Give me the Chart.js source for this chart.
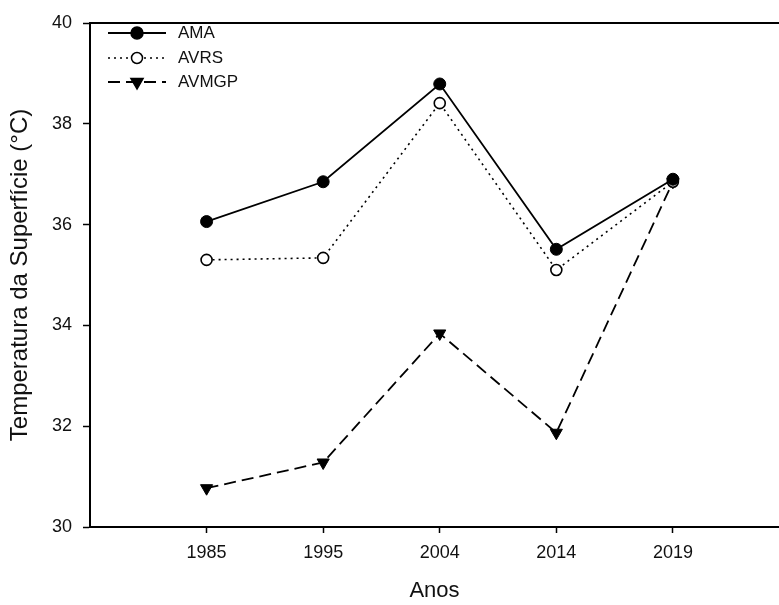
<!DOCTYPE html>
<html>
<head>
<meta charset="utf-8">
<script src="https://cdn.jsdelivr.net/npm/chart.js@4/dist/chart.umd.min.js"></script>
<style>
  body { margin: 0; background: #fff; }
  #wrap { width: 779px; height: 605px; }
</style>
</head>
<body>
<div id="wrap"><canvas id="grafico" width="779" height="605"></canvas></div>
<script>
// anos (eixo x) e temperaturas por area
const anos = ['1985', '1995', '2004', '2014', '2019'];
const ama = [36.06, 36.85, 38.79, 35.51, 36.90];
const avrs = [35.30, 35.34, 38.41, 35.10, 36.85];
const avmgp = [30.77, 31.28, 33.84, 31.87, 36.85];
const yTicks = [30, 32, 34, 36, 38, 40];

const fonte = 'Liberation Sans, Arial, sans-serif';

const pontos = function(valores) {
    return valores.map((v, i) => ({ x: i + 1, y: v }));
};

// desenha a legenda dentro da area do grafico + linha superior
const legendaPlugin = {
    id: 'legendaInterna',
    afterDraw(chart) {
        const ctx = chart.ctx;
        const area = chart.chartArea;
        ctx.save();
        ctx.strokeStyle = '#000';
        ctx.lineWidth = 2;
        ctx.beginPath();
        ctx.moveTo(area.left, area.top);
        ctx.lineTo(area.right, area.top);
        ctx.stroke();

        const linhas = [33, 58, 82];
        chart.data.datasets.forEach((ds, i) => {
            const y = linhas[i];
            ctx.strokeStyle = '#000';
            ctx.lineWidth = ds.borderWidth;
            ctx.setLineDash(ds.borderDash || []);
            ctx.beginPath();
            ctx.moveTo(108, y);
            ctx.lineTo(166, y);
            ctx.stroke();
            ctx.setLineDash([]);
            ctx.fillStyle = ds.pointBackgroundColor;
            ctx.lineWidth = 1.5;
            ctx.beginPath();
            if (ds.pointStyle === 'triangle') {
                const r = ds.pointRadius;
                ctx.moveTo(137, y + r);
                ctx.lineTo(137 - r * 0.866, y - r / 2);
                ctx.lineTo(137 + r * 0.866, y - r / 2);
                ctx.closePath();
            } else {
                ctx.arc(137, y, ds.pointRadius, 0, Math.PI * 2);
            }
            ctx.fill();
            ctx.stroke();
            ctx.fillStyle = '#111';
            ctx.font = '17px ' + fonte;
            ctx.textBaseline = 'middle';
            ctx.textAlign = 'left';
            ctx.fillText(ds.label, 178, y);
        });
        ctx.restore();
    }
};

const ctx = document.getElementById('grafico').getContext('2d');
new Chart(ctx, {
    type: 'line',
    data: {
        datasets: [
            {
                label: 'AMA',
                data: pontos(ama),
                borderColor: '#000',
                borderWidth: 1.8,
                pointStyle: 'circle',
                pointRadius: 6,
                pointBackgroundColor: '#000',
                pointBorderColor: '#000',
                pointBorderWidth: 1,
                tension: 0
            },
            {
                label: 'AVRS',
                data: pontos(avrs),
                borderColor: '#000',
                borderWidth: 1.6,
                borderDash: [2, 4],
                pointStyle: 'circle',
                pointRadius: 5.5,
                pointBackgroundColor: '#fff',
                pointBorderColor: '#000',
                pointBorderWidth: 1.6,
                tension: 0
            },
            {
                label: 'AVMGP',
                data: pontos(avmgp),
                borderColor: '#000',
                borderWidth: 1.8,
                borderDash: [12, 6],
                pointStyle: 'triangle',
                pointRotation: 180,
                pointRadius: 7,
                pointBackgroundColor: '#000',
                pointBorderColor: '#000',
                pointBorderWidth: 1,
                tension: 0
            }
        ]
    },
    options: {
        responsive: false,
        animation: false,
        layout: { autoPadding: false, padding: { top: 23, right: 0, left: 0, bottom: 0 } },
        plugins: {
            legend: { display: false },
            tooltip: { enabled: false }
        },
        scales: {
            x: {
                type: 'linear',
                min: 0,
                max: 5.91,
                afterBuildTicks: function(scale) {
                    scale.ticks = anos.map((_, i) => ({ value: i + 1 }));
                },
                afterFit: function(scale) { scale.height = 78; },
                grid: { drawOnChartArea: false, drawTicks: true, tickLength: 6, tickWidth: 1.5, tickColor: '#000' },
                border: { display: true, color: '#000', width: 2 },
                ticks: {
                    autoSkip: false,
                    maxRotation: 0,
                    padding: 9,
                    color: '#111',
                    font: { family: fonte, size: 18 },
                    callback: function(value, index) { return anos[index]; }
                },
                title: {
                    display: true,
                    text: 'Anos',
                    color: '#111',
                    padding: { top: 0, bottom: 1 },
                    font: { family: fonte, size: 22 }
                }
            },
            y: {
                min: 30,
                max: 40,
                afterBuildTicks: function(scale) {
                    scale.ticks = yTicks.map(v => ({ value: v }));
                },
                afterFit: function(scale) { scale.width = 90; },
                grid: { drawOnChartArea: false, drawTicks: true, tickLength: 7, tickWidth: 1.5, tickColor: '#000' },
                border: { display: true, color: '#000', width: 2 },
                ticks: {
                    padding: 11,
                    color: '#111',
                    font: { family: fonte, size: 18 }
                },
                title: {
                    display: true,
                    text: 'Temperatura da Superfície (°C)',
                    color: '#111',
                    padding: { top: 6, bottom: 0 },
                    font: { family: fonte, size: 24 }
                }
            }
        }
    },
    plugins: [legendaPlugin]
});
</script>
</body>
</html>
